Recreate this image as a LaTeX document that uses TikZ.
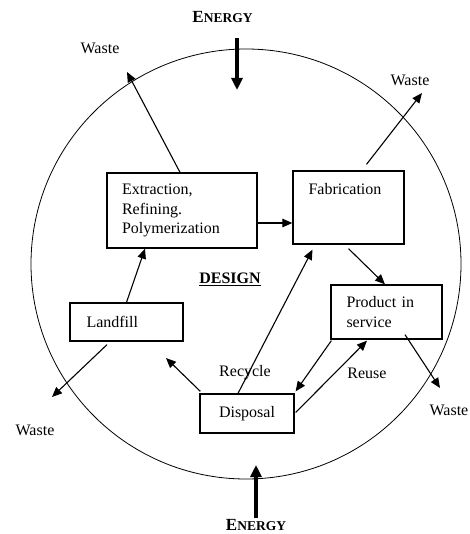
\documentclass[tikz,border=0pt]{standalone}
\usepackage{fontspec}
\setmainfont{Liberation Serif}
\usetikzlibrary{arrows.meta,calc}
\begin{document}
\begin{tikzpicture}[x=1pt,y=-1pt,
  every node/.style={font=\fontsize{16}{19.5}\selectfont, inner sep=0pt},
  boxnode/.style={draw, line width=1.3pt, rectangle},
  arr/.style={-{Triangle[length=10pt,width=8.5pt]}, line width=1.1pt},
  energyarr/.style={-{Triangle[length=12pt,width=11pt]}, line width=3.5pt},
  lbl/.style={font=\fontsize{16}{19.5}\selectfont},
  energylbl/.style={font=\bfseries\fontsize{17}{19}\selectfont}
]
\useasboundingbox (0,0) rectangle (469,534);
% cycle circle
\node[draw, line width=0.8pt, circle, minimum size=430pt] (circ) at (246,264) {};

% boxes
\node[boxnode, minimum width=150pt, minimum height=75pt, text width=120pt, align=left] (ext) at (182,210.5)
  {Extraction,\\Refining.\\Polymerization};
\node[boxnode, minimum width=111pt, minimum height=73pt,
  label={[anchor=west, lbl, inner sep=0pt, xshift=16pt, yshift=-19pt]north west:Fabrication}] (fab) at (348.5,207.5) {};
\node[boxnode, minimum width=111pt, minimum height=54pt, text width=80pt, align=left] (prod) at (386.5,312)
  {Product in\\service};
\node[boxnode, minimum width=113pt, minimum height=38pt, text width=80pt, align=left] (land) at (126.5,322) {Landfill};
\node[boxnode, minimum width=94pt, minimum height=39pt] (disp) at (247,413.5) {Disposal};

% labels
\node (design) at (230,279) {\textbf{\underline{DESIGN}}};
\node (recycle) at (245,373) {Recycle};
\node (reuse) at (367,373) {Reuse};
\node (wtl) at (100,48) {Waste};
\node (wtr) at (410,80) {Waste};
\node (wbl) at (35,430) {Waste};
\node[anchor=east] (wbr) at (468.5,410) {Waste};
\node[energylbl] (etop) at (222.5,17) {E\fontsize{13.5}{15}\selectfont NERGY};
\node[energylbl] (ebot) at (256,525) {E\fontsize{13.5}{15}\selectfont NERGY};

% free ends
\coordinate (w1) at (127,72);
\coordinate (w2) at (422,93);
\coordinate (w3) at (52,397);
\coordinate (w4) at (440,388);
\coordinate (tolf) at (166,358);
\coordinate (etopa) at (237,38);
\coordinate (etopb) at (237,90);
\coordinate (ebota) at (256,518);
\coordinate (ebotb) at (256,465);

% energy arrows
\draw[energyarr] (etopa) -- (etopb);
\draw[energyarr] (ebota) -- (ebotb);

% connectors
\draw[arr] ($(ext.north)+(-2,0)$) -- (w1);
\draw[arr] ($(fab.north)+(18,-6)$) -- (w2);
\draw[arr] ($(ext.east)+(0,12.5)$) -- ($(fab.west)+(0,15.5)$);
\draw[arr] ($(fab.south)+(0,4)$) -- ($(prod.north)+(-1.5,0)$);
\draw[arr] (land.north) -- ($(ext.south)+(-37,0)$);
\draw[arr] ($(disp.north)+(-9,0)$) -- ($(fab.south)+(-36,5)$);
\draw[arr] ($(disp.north west)+(1,-2)$) -- (tolf);
\draw[arr] ($(prod.south west)+(1,1)$) -- ($(disp.north east)+(1,-2)$);
\draw[arr] ($(disp.east)+(1,-1)$) -- ($(prod.south)+(-19.5,1)$);
\draw[arr] ($(land.south)+(-19.5,3)$) -- (w3);
\draw[arr] ($(prod.south)+(18.5,-5)$) -- (w4);
\end{tikzpicture}
\end{document}
